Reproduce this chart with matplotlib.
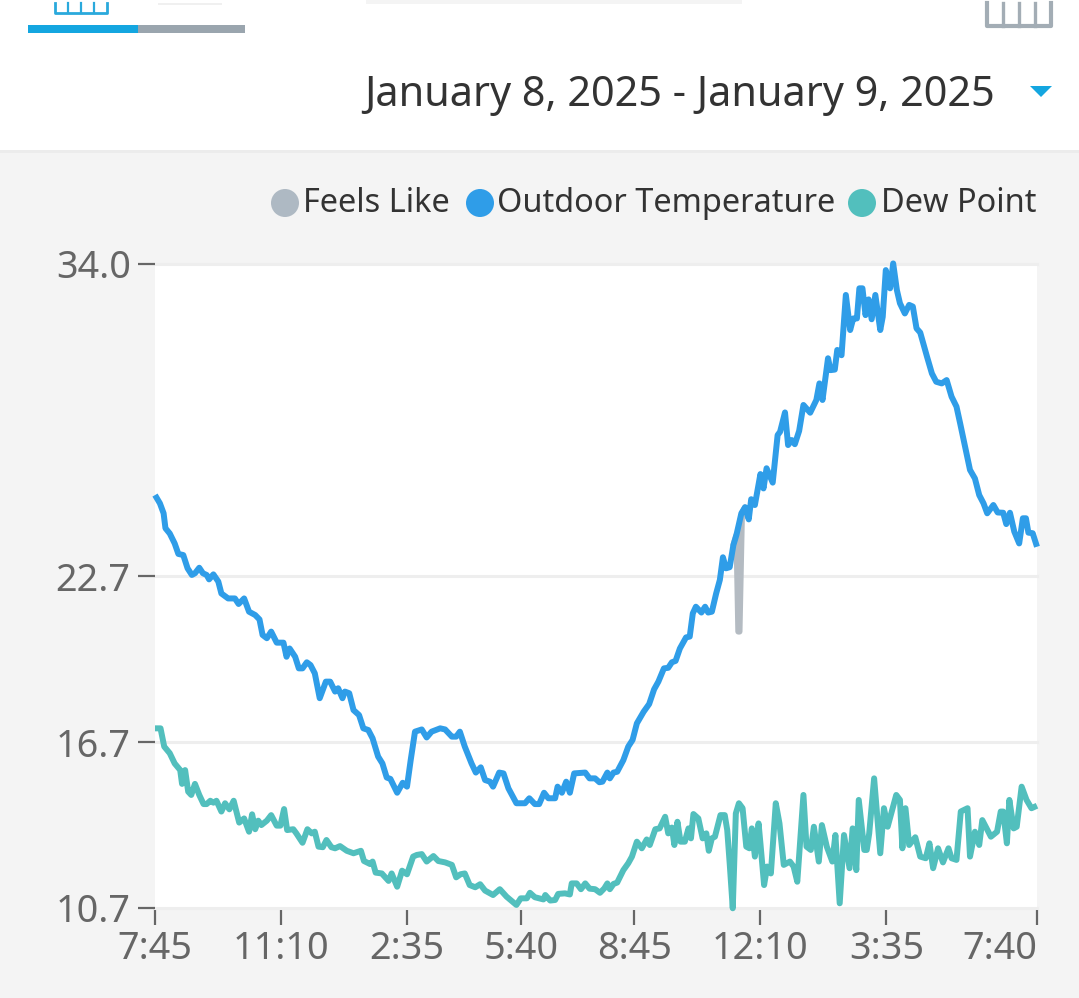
import matplotlib
matplotlib.use("Agg")
import matplotlib.pyplot as plt
from matplotlib.patches import Circle, Polygon, Rectangle

plt.rcParams["font.family"] = ["Noto Sans", "DejaVu Sans"]

# minutes since 7:45 / degrees
outdoor_t = [0, 8, 14, 17, 24, 32, 38, 46, 53, 60, 65, 72, 78, 84, 88, 95, 103, 108, 119, 130, 136, 145, 153, 163,
             170, 175, 182, 189, 198, 209, 214, 219, 228, 234, 240, 247, 253, 260, 268, 278, 285, 293, 298, 305,
             309, 316, 323, 332, 339, 347, 354, 363, 370, 377, 383, 394, 403, 410, 416, 423, 434, 442, 450, 464,
             472, 483, 490, 496, 504, 515, 522, 530, 537, 545, 550, 560, 567, 575, 588, 602, 609, 618, 625, 633,
             640, 651, 655, 662, 669, 675, 682, 700, 707, 716, 723, 728, 736, 740, 746, 752, 762, 770, 777, 784,
             795, 804, 812, 819, 828, 835, 841, 847, 854, 864, 870, 875, 880, 889, 895, 900, 906, 913, 919, 924,
             929, 935, 941, 946, 954, 960, 966, 970, 976, 985, 990, 995, 1005, 1013, 1017, 1025, 1030, 1036, 1041,
             1048, 1055, 1066, 1076, 1081, 1086, 1095, 1099, 1106, 1110, 1117, 1124, 1131, 1136, 1142, 1146, 1151,
             1156, 1161, 1166, 1172, 1180, 1184, 1189, 1196, 1201, 1207, 1212, 1220, 1227, 1233, 1239, 1245, 1256,
             1264, 1271, 1280, 1288, 1296, 1304, 1310, 1318, 1326, 1334, 1341, 1348, 1354, 1364, 1371, 1380, 1385,
             1391, 1398, 1406, 1412, 1417, 1421, 1428, 1435]
outdoor_v = [25.64, 25.34, 24.98, 24.44, 24.25, 23.89, 23.51, 23.47, 22.99, 22.75, 22.81, 23.01, 22.81, 22.75, 22.59,
             22.77, 22.51, 22.08, 21.9, 21.9, 21.7, 21.9, 21.42, 21.3, 21.14, 20.58, 20.46, 20.7, 20.3, 20.3, 19.79,
             20.09, 19.79, 19.37, 19.37, 19.59, 19.49, 19.19, 18.29, 18.89, 18.89, 18.53, 18.65, 18.29, 18.53, 18.47,
             17.86, 17.68, 17.2, 17.14, 16.84, 16.18, 15.93, 15.42, 15.37, 14.87, 15.23, 15.09, 16.05, 17.08, 17.16,
             16.87, 17.08, 17.2, 17.16, 16.9, 16.9, 17.08, 16.54, 15.93, 15.6, 15.79, 15.33, 15.27, 15.09, 15.6,
             15.57, 15.03, 14.49, 14.49, 14.67, 14.46, 14.46, 14.87, 14.67, 14.67, 15.09, 14.87, 15.27, 14.87, 15.57,
             15.6, 15.39, 15.39, 15.25, 15.27, 15.6, 15.39, 15.6, 15.63, 16.05, 16.54, 16.78, 17.38, 17.8, 18.08,
             18.61, 18.89, 19.37, 19.39, 19.59, 19.64, 20.09, 20.49, 20.52, 21.36, 21.6, 21.39, 21.6, 21.39, 21.42,
             22.08, 22.57, 23.39, 22.99, 23.03, 23.83, 24.2, 24.98, 25.2, 24.76, 25.49, 25.28, 26.4, 25.88, 26.61,
             26.09, 27.81, 27.93, 28.63, 27.45, 27.63, 27.48, 27.96, 28.9, 28.62, 29.08, 29.68, 29.08, 30.59, 30.16,
             30.18, 30.89, 30.7, 32.88, 31.61, 32.03, 32.03, 33.12, 33.12, 32.15, 32.72, 32.0, 32.88, 31.61, 32.09,
             33.78, 33.12, 34.02, 33.06, 32.58, 32.21, 32.52, 32.46, 31.67, 31.52, 30.65, 30.04, 29.74, 29.68, 29.8,
             29.2, 28.84, 28.23, 27.39, 26.55, 26.24, 25.64, 25.34, 24.98, 25.28, 25.01, 25.0, 24.59, 25.0, 24.32,
             23.89, 24.8, 24.8, 24.28, 24.26, 23.77]

dew_t = [0, 9, 15, 24, 32, 41, 44, 49, 54, 59, 65, 72, 79, 84, 90, 95, 100, 108, 114, 121, 128, 137, 145, 153, 158,
         163, 168, 173, 182, 189, 198, 204, 210, 215, 225, 230, 240, 248, 255, 260, 266, 273, 279, 287, 293, 301,
         312, 323, 335, 340, 350, 354, 359, 369, 380, 385, 394, 402, 410, 420, 426, 434, 442, 453, 461, 472, 483,
         490, 497, 504, 512, 521, 529, 537, 550, 561, 572, 588, 595, 605, 610, 618, 632, 635, 643, 651, 656, 667,
         675, 678, 686, 693, 700, 707, 716, 724, 731, 736, 740, 746, 752, 762, 770, 776, 784, 792, 800, 805, 814,
         821, 830, 835, 841, 845, 850, 855, 862, 868, 872, 876, 884, 891, 897, 901, 906, 911, 920, 927, 931, 935,
         940, 945, 950, 956, 962, 967, 971, 976, 982, 985, 991, 996, 1002, 1010, 1016, 1023, 1033, 1039, 1045,
         1055, 1060, 1067, 1072, 1080, 1085, 1093, 1102, 1107, 1114, 1121, 1130, 1135, 1141, 1145, 1154, 1158,
         1162, 1170, 1180, 1186, 1192, 1206, 1212, 1216, 1221, 1227, 1237, 1245, 1254, 1260, 1266, 1274, 1282,
         1291, 1296, 1304, 1311, 1322, 1326, 1334, 1341, 1346, 1360, 1370, 1376, 1380, 1386, 1390, 1397, 1402,
         1410, 1418, 1426, 1435]
dew_v = [17.2, 17.2, 16.54, 16.3, 15.93, 15.69, 15.19, 15.69, 14.91, 14.79, 15.19, 14.79, 14.46, 14.46, 14.58, 14.51,
         14.58, 14.19, 14.49, 14.27, 14.58, 13.79, 13.94, 13.46, 14.09, 13.55, 13.86, 13.7, 13.86, 14.06, 13.68,
         13.68, 14.28, 13.52, 13.55, 13.4, 13.06, 13.55, 13.4, 13.46, 12.92, 12.9, 13.16, 12.9, 12.86, 12.94, 12.77,
         12.68, 12.77, 12.4, 12.29, 12.38, 11.98, 11.95, 11.68, 11.95, 11.47, 12.05, 11.92, 12.56, 12.62, 12.65,
         12.38, 12.58, 12.4, 12.35, 12.26, 11.81, 11.92, 11.95, 11.53, 11.45, 11.56, 11.33, 11.17, 11.38, 11.11,
         10.81, 11.05, 11.05, 11.25, 11.09, 11.01, 11.17, 10.97, 10.99, 11.21, 11.23, 11.19, 11.59, 11.59, 11.38,
         11.59, 11.4, 11.38, 11.25, 11.41, 11.59, 11.38, 11.57, 11.62, 12.07, 12.32, 12.56, 13.1, 12.86, 13.18,
         12.98, 13.55, 13.58, 14.0, 13.4, 13.61, 12.98, 13.82, 13.1, 13.1, 13.58, 13.22, 14.1, 13.94, 13.22, 13.4,
         12.77, 13.22, 13.28, 14.06, 14.06, 13.52, 12.32, 10.69, 14.12, 14.49, 14.31, 12.92, 12.86, 13.58, 12.56,
         13.76, 13.04, 11.53, 12.2, 11.95, 14.49, 13.76, 12.26, 12.38, 12.2, 11.65, 14.79, 12.92, 12.8, 13.64, 12.38,
         13.7, 12.92, 12.38, 13.34, 10.87, 13.34, 12.14, 13.58, 12.07, 14.61, 12.8, 12.8, 13.4, 15.39, 12.68, 14.31,
         13.64, 14.79, 14.61, 12.86, 14.31, 12.98, 13.26, 12.56, 12.5, 13.04, 12.14, 12.86, 12.35, 12.86, 12.5,
         12.44, 14.19, 14.31, 12.56, 13.46, 12.98, 13.88, 13.28, 13.46, 14.19, 14.19, 13.04, 14.61, 13.58, 13.64,
         15.09, 14.61, 14.31, 14.4]

# only the dip shows, the rest sits under the outdoor line
feels_t = [941, 946, 949, 951, 955, 960]
feels_v = [23.83, 24.2, 20.7, 20.7, 24.98, 25.2]

tick_minutes = [0, 205, 410, 595, 780, 985, 1190, 1435]
tick_labels = ["7:45", "11:10", "2:35", "5:40", "8:45", "12:10", "3:35", "7:40"]
y_ticks = [10.7, 16.7, 22.7, 34.0]
legend_names = ["Feels Like", "Outdoor Temperature", "Dew Point"]
legend_colors = ["#aeb9c3", "#2f9de8", "#52bfbd"]

W, H = 1079, 998
fig = plt.figure(figsize=(W / 100, H / 100), dpi=100, facecolor="#f4f4f4")

# page chrome, in pixels
bg = fig.add_axes([0, 0, 1, 1], zorder=0)
bg.set_xlim(0, W); bg.set_ylim(H, 0); bg.axis("off")
bg.add_patch(Rectangle((0, 0), W, 151, fc="white", ec="none"))
bg.add_patch(Rectangle((0, 150), W, 2.5, fc="#ececec", ec="none"))
bg.add_patch(Rectangle((366, 0), 376, 4, fc="#f4f4f4", ec="none"))
bg.add_patch(Rectangle((158, 3), 64, 1.5, fc="#f0f0f0", ec="none"))
bg.add_patch(Rectangle((28, 25), 110, 8, fc="#14a6e0", ec="none"))
bg.add_patch(Rectangle((138, 25), 107, 8, fc="#9aa5ae", ec="none"))
bg.add_patch(Polygon([(1030, 86), (1052, 86), (1041, 97)], fc="#14a6e0", ec="none"))

# cut off tab icons
bg.plot([55, 55, 107, 107], [3, 13, 13, 3], color="#2aa9dc", lw=2, solid_joinstyle="round")
for x in [68, 81, 94]:
    bg.plot([x, x], [3, 13], color="#2aa9dc", lw=1.6)
bg.plot([987, 987, 1051, 1051], [3, 26, 26, 3], color="#a3adb5", lw=3, solid_joinstyle="round")
for x in [1003, 1019, 1035]:
    bg.plot([x, x], [3, 26], color="#a3adb5", lw=2.4)

bg.text(995, 95, "January 8, 2025 - January 9, 2025", ha="right", va="center", fontsize=29.8, color="#333333")

legend_x = [285, 480, 862]
text_x = [303, 497, 881]
for name, c, cx, tx in zip(legend_names, legend_colors, legend_x, text_x):
    bg.add_patch(Circle((cx, 203), 14, fc=c, ec="none"))
    bg.text(tx, 203.5, name, ha="left", va="center", fontsize=23.4, color="#333333")

ax = fig.add_axes([155 / W, 1 - 908 / H, 882 / W, 644 / H], zorder=1)
ax.set_facecolor("white")
ax.set_xlim(0, 1435)
ax.set_ylim(10.7, 34.0)
for s in ax.spines.values():
    s.set_visible(False)

ax.set_yticks(y_ticks)
ax.set_yticklabels([f"{v:.1f}" for v in y_ticks])
ax.set_xticks(tick_minutes)
ax.set_xticklabels(tick_labels)
ax.tick_params(axis="both", length=12.5, width=1.6, color="#666666", labelcolor="#666666", labelsize=27.2)
ax.tick_params(axis="x", pad=3.5)
ax.tick_params(axis="y", pad=5)
ax.xaxis.get_ticklabels()[-1].set_ha("right")
ax.grid(axis="y", color="#eeeeee", lw=2.2, clip_on=False)
ax.set_axisbelow(True)

ax.plot(feels_t, feels_v, color="#b4bbc2", lw=4.3, solid_capstyle="round", solid_joinstyle="round", clip_on=False)
ax.plot(dew_t, dew_v, color=legend_colors[2], lw=4.3, solid_capstyle="butt", solid_joinstyle="round", clip_on=False)
ax.plot(outdoor_t, outdoor_v, color=legend_colors[1], lw=4.3, solid_capstyle="butt", solid_joinstyle="round", clip_on=False)

fig.savefig("out.png", dpi=100, facecolor=fig.get_facecolor())
